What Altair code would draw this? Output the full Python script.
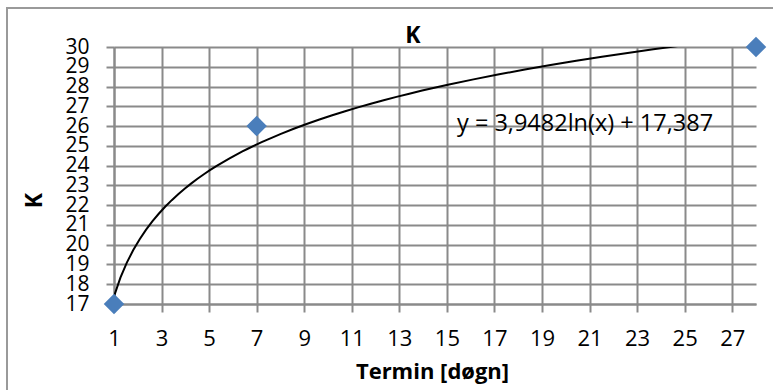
import altair as alt
import pandas as pd

# Data
termin = [1, 7, 28]
k_values = [17, 26, 30]
x_ticks = [1, 3, 5, 7, 9, 11, 13, 15, 17, 19, 21, 23, 25, 27]
y_ticks = [17, 18, 19, 20, 21, 22, 23, 24, 25, 26, 27, 28, 29, 30]
chart_title = "K"
equation = "y = 3,9482ln(x) + 17,387"
x_title = "Termin [døgn]"
y_title = "K"

df = pd.DataFrame({"termin": termin, "k": k_values})

FONT = "Open Sans"
GRID = "#8a8a8a"

x_enc = alt.X(
    "termin:Q",
    scale=alt.Scale(domain=[1, 28], nice=False, zero=False),
    axis=alt.Axis(
        values=x_ticks,
        tickCount=40,
        format="d",
        labelPadding=16,
        labelFontSize=22,
        title=x_title,
        titleFontSize=22,
        titleX=318,
        titleY=74,
        titleBaseline="alphabetic",
    ),
)
y_enc = alt.Y(
    "k:Q",
    scale=alt.Scale(domain=[17, 30], nice=False, zero=False),
    axis=alt.Axis(
        values=y_ticks,
        tickCount=40,
        format="d",
        labelPadding=17,
        labelFontSize=21,
        title=y_title,
        titleFontSize=23,
        titleX=-73,
        titleY=153,
        titleBaseline="alphabetic",
    ),
)

base = alt.Chart(df).encode(x=x_enc, y=y_enc)

trend = base.transform_regression("termin", "k", method="log").mark_line(
    color="black", strokeWidth=2, clip=True
)

points = base.mark_point(
    shape="diamond", filled=True, size=420, color="#4A7EBB", opacity=1
)

frame = alt.Chart(pd.DataFrame({"a": [0]})).mark_rect(
    fillOpacity=0, stroke="#9a9a9a", strokeWidth=2
).encode(
    x=alt.value(-107), x2=alt.value(720), y=alt.value(-39), y2=alt.value(400)
)

title_txt = alt.Chart(pd.DataFrame({"t": [chart_title]})).mark_text(
    font=FONT, fontSize=23, fontWeight="bold", color="black",
    align="center", baseline="alphabetic"
).encode(text="t:N", x=alt.value(299), y=alt.value(-4))

eq_txt = alt.Chart(pd.DataFrame({"t": [equation]})).mark_text(
    font=FONT, fontSize=23.5, color="black", align="left", baseline="alphabetic"
).encode(text="t:N", x=alt.value(343), y=alt.value(84))

chart = alt.layer(frame, trend, points, title_txt, eq_txt).properties(
    width=642,
    height=257,
    autosize=alt.AutoSizeParams(type="none"),
    padding={"left": 114, "top": 47, "right": 17, "bottom": 86},
    background="white",
).configure_view(
    strokeWidth=0
).configure_axis(
    grid=True,
    gridColor=GRID,
    gridWidth=2,
    gridOpacity=1,
    tickSize=8,
    tickColor=GRID,
    tickWidth=2,
    domainColor=GRID,
    domainWidth=2,
    labelFont=FONT,
    labelColor="black",
    labelOverlap=False,
    labelFlush=False,
    titleFont=FONT,
    titleFontWeight="bold",
    titleColor="black",
)

chart.save("out.html", embed_options={"renderer": "svg", "actions": False})
